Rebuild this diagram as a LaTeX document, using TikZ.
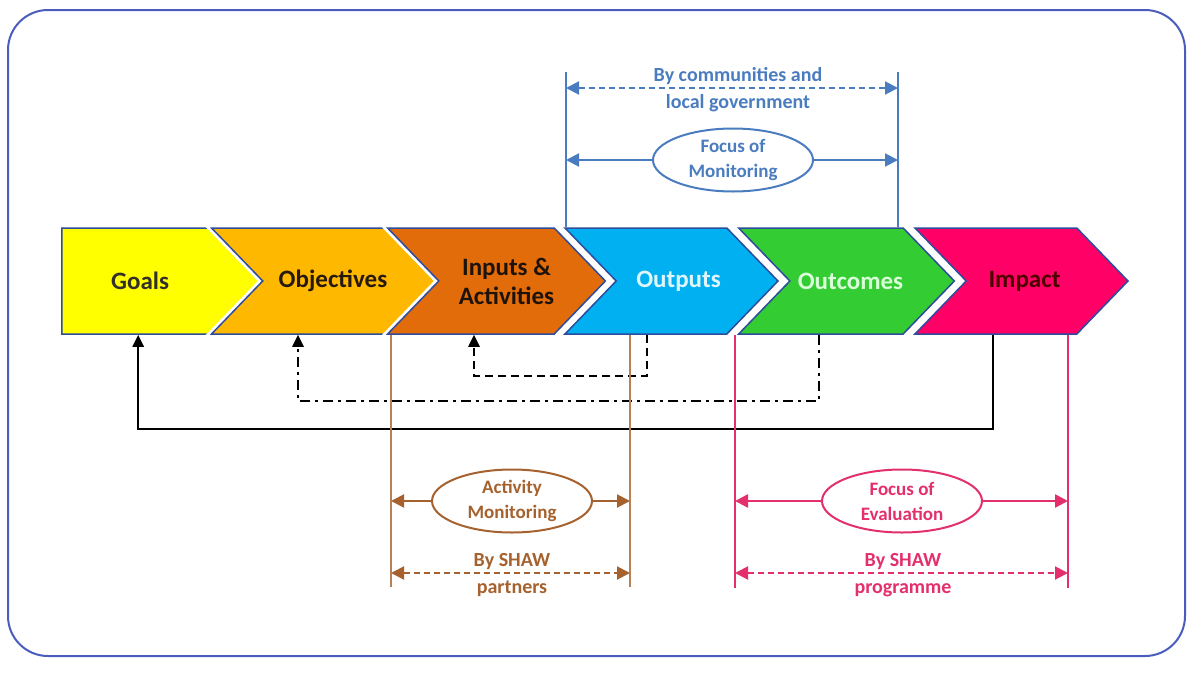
\documentclass[tikz,border=0pt]{standalone}
\usepackage{fontspec}
\setmainfont{Carlito}
\usetikzlibrary{shapes.symbols,shapes.geometric,arrows.meta}

\definecolor{chevline}{HTML}{2E4C9C}
\definecolor{framecol}{HTML}{4A5DBE}
\definecolor{monblue}{HTML}{4A7CC0}
\definecolor{actbrown}{HTML}{A5622E}
\definecolor{evapink}{HTML}{E3306C}
\definecolor{cGoals}{HTML}{FFFF00}
\definecolor{cObj}{HTML}{FFB800}
\definecolor{cInp}{HTML}{E36C0A}
\definecolor{cOutp}{HTML}{00B0F0}
\definecolor{cOutc}{HTML}{33CC33}
\definecolor{cImp}{HTML}{FF0066}

\begin{document}
\begin{tikzpicture}[x=1pt,y=-1pt,
  stage/.style={signal, signal to=east, signal from=west, signal pointer angle=92,
    minimum width=213pt, minimum height=106pt, inner sep=0pt, draw=chevline,
    line width=1.5pt, preaction={draw=white, line width=7pt}, align=center,
    font=\fontsize{25}{29}\selectfont\bfseries},
  focus/.style={ellipse, draw, line width=2pt, fill=white, minimum width=160pt,
    minimum height=63pt, inner sep=0pt, align=center,
    font=\fontsize{19}{25}\selectfont\bfseries},
  bylabel/.style={align=center, inner sep=0pt, font=\fontsize{20}{27}\selectfont\bfseries},
  fb/.style={line width=2.5pt, -{Triangle[length=12pt,width=11pt]}},
  span/.style={line width=2pt, {Triangle[length=13pt,width=13pt]}-{Triangle[length=13pt,width=13pt]}},
  spandash/.style={span, dash pattern=on 6pt off 4pt}
]
\useasboundingbox (0,0) rectangle (1194,672);
\draw[framecol, line width=2pt, rounded corners=40pt] (8,10) rectangle (1185,656);

% the six stages
\node[stage, signal from=nowhere, minimum width=208pt, anchor=west, fill=cGoals, text=black!85!olive] (goals) at (61,281) {Goals};
\node[stage, minimum width=206pt, fill=cObj, text=black!80!brown] (objectives) at (325,281) {\hspace*{16pt}Objectives};
\node[stage, fill=cInp, text=black!85!brown] (inputs) at (496.5,281) {\hspace*{20pt}Inputs \&\\\hspace*{20pt}Activities};
\node[stage, fill=cOutp, text=cyan!12] (outputs) at (671.5,281) {\hspace*{14pt}Outputs};
\node[stage, fill=cOutc, text=green!15] (outcomes) at (846.5,281) {\hspace*{8pt}Outcomes};
\node[stage, fill=cImp, text=black!70!red] (impact) at (1021.5,281) {\hspace*{6pt}Impact};

% feedback loops
\draw[fb] ([xshift=-28.5pt]impact.south) -- ++(0,94) -| ([xshift=-2pt]goals.south);
\draw[fb, dash pattern=on 10pt off 5pt on 3pt off 5pt] ([xshift=-27.5pt]outcomes.south) -- ++(0,66) -| ([xshift=-27pt]objectives.south);
\draw[fb, dash pattern=on 8pt off 5pt] ([xshift=-24.5pt]outputs.south) -- ++(0,41) -| ([xshift=-22.5pt]inputs.south);

% monitoring, top
\coordinate (monL) at (566,72);
\coordinate (monR) at (898,72);
\draw[monblue, line width=1.5pt] (monL) -- (monL |- outputs.north);
\draw[monblue, line width=1.5pt] (monR) -- (monR |- outputs.north);
\node[bylabel, text=monblue] (bycomm) at (738,90) {By communities and\\local government};
\draw[spandash, monblue] ([yshift=2pt]bycomm.center -| monL) -- ([yshift=2pt]bycomm.center -| monR);
\node[focus, draw=monblue, text=monblue] (focmon) at (733,160) {Focus of\\Monitoring};
\draw[span, monblue, {}-{Triangle[length=13pt,width=13pt]}] (focmon.west) -- (focmon.west -| monL);
\draw[span, monblue, {}-{Triangle[length=13pt,width=13pt]}] (focmon.east) -- (focmon.east -| monR);

% activity monitoring, bottom left
\coordinate (actL) at (391,587);
\coordinate (actR) at (630,587);
\draw[actbrown!80, line width=1.2pt] (actL) -- (actL |- inputs.south);
\draw[actbrown!80, line width=1.2pt] (actR) -- (actR |- inputs.south);
\node[focus, draw=actbrown, text=actbrown] (actmon) at (512,501) {Activity\\Monitoring};
\draw[span, actbrown, {}-{Triangle[length=13pt,width=13pt]}] (actmon.west) -- (actmon.west -| actL);
\draw[span, actbrown, {}-{Triangle[length=13pt,width=13pt]}] (actmon.east) -- (actmon.east -| actR);
\node[bylabel, text=actbrown] (bypart) at (512,575) {By SHAW\\partners};
\draw[spandash, actbrown] ([yshift=2pt]bypart.center -| actL) -- ([yshift=2pt]bypart.center -| actR);

% evaluation, bottom right
\coordinate (evaL) at (735,588);
\coordinate (evaR) at (1068,588);
\draw[evapink, line width=1.2pt] (evaL) -- (evaL |- outcomes.south);
\draw[evapink, line width=1.2pt] (evaR) -- (evaR |- impact.south);
\node[focus, draw=evapink, text=evapink] (focev) at (902,501) {Focus of\\Evaluation};
\draw[span, evapink, line width=2.5pt, {}-{Triangle[length=13pt,width=13pt]}] (focev.west) -- (focev.west -| evaL);
\draw[span, evapink, line width=2.5pt, {}-{Triangle[length=13pt,width=13pt]}] (focev.east) -- (focev.east -| evaR);
\node[bylabel, text=evapink] (byprog) at (903,575) {By SHAW\\programme};
\draw[spandash, evapink] ([yshift=2pt]byprog.center -| evaL) -- ([yshift=2pt]byprog.center -| evaR);
\end{tikzpicture}
\end{document}
